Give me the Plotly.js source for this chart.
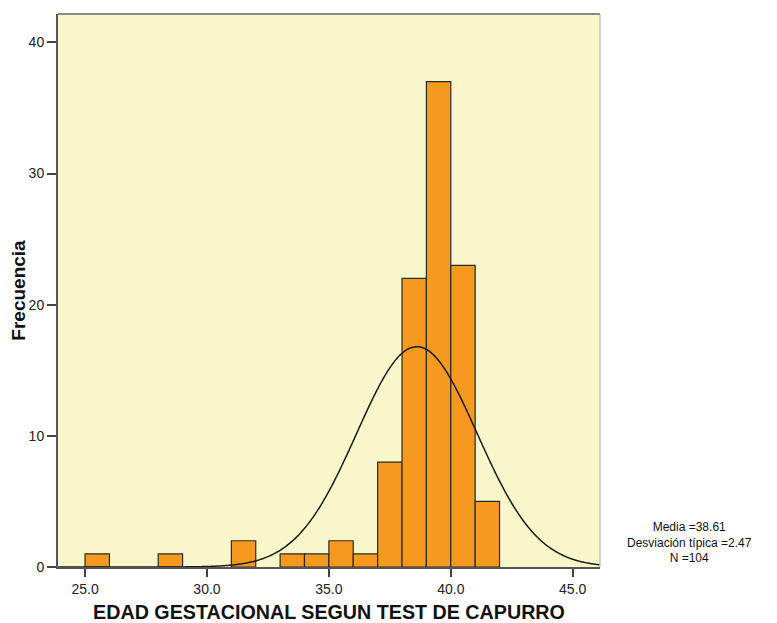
<!DOCTYPE html>
<html>
<head>
<meta charset="utf-8">
<script src="https://cdn.plot.ly/plotly-3.0.1.min.js"></script>
<style>
  html, body { margin: 0; padding: 0; background: #ffffff; }
  #chart { width: 777px; height: 623px; }
</style>
</head>
<body>
<div id="chart"></div>
<script>
// Histogram of gestational age (Capurro test), bins of width 1 week
const binStarts = [25, 28, 31, 33, 34, 35, 36, 37, 38, 39, 40, 41];
const counts    = [1, 1, 2, 1, 1, 2, 1, 8, 22, 37, 23, 5];
const binWidth = 1;

// Summary statistics shown beside the plot
const media = 38.61;
const desviacion = 2.47;
const n = 104;

const xTicks = [25, 30, 35, 40, 45];
const yTicks = [0, 10, 20, 30, 40];

// Fitted normal curve scaled to counts per bin
const curveX = [];
const curveY = [];
for (let x = 23.9; x <= 46.12; x += 0.05) {
  const z = (x - media) / desviacion;
  curveX.push(x);
  curveY.push(n * binWidth * Math.exp(-0.5 * z * z) / (desviacion * Math.sqrt(2 * Math.PI)));
}

const font = "Liberation Sans, Arial, sans-serif";

const bars = {
  type: 'bar',
  x: binStarts.map(s => s + binWidth / 2),
  y: counts,
  width: binWidth,
  marker: { color: '#F7991F', line: { color: '#2a2a2a', width: 1.2 } },
  hoverinfo: 'x+y'
};

const curve = {
  type: 'scatter',
  mode: 'lines',
  x: curveX,
  y: curveY,
  line: { color: '#1a1a1a', width: 1.5, shape: 'spline' },
  hoverinfo: 'skip'
};

const layout = {
  width: 777,
  height: 623,
  margin: { l: 58, r: 177, t: 14, b: 56 },
  paper_bgcolor: '#ffffff',
  plot_bgcolor: '#F8F7C9',
  showlegend: false,
  bargap: 0,
  font: { family: font, color: '#222222', size: 13.5 },
  xaxis: {
    range: [23.89, 46.12],
    tickvals: xTicks,
    ticktext: xTicks.map(v => v.toFixed(1)),
    ticks: 'outside',
    ticklen: 8,
    tickwidth: 2,
    tickcolor: '#444444',
    showgrid: false,
    zeroline: false,
    showline: true,
    linecolor: '#555555',
    linewidth: 2,
    mirror: false,
    tickfont: { family: font, size: 14, color: '#222222' },
    title: {
      text: 'EDAD GESTACIONAL SEGUN TEST DE CAPURRO',
      font: { family: font, size: 19.7, color: '#111111', weight: 'bold' },
      standoff: 11
    }
  },
  yaxis: {
    range: [0, 42.16],
    tickvals: yTicks,
    ticks: 'outside',
    ticklen: 9,
    tickwidth: 2,
    tickcolor: '#444444',
    showgrid: false,
    zeroline: false,
    showline: true,
    linecolor: '#555555',
    linewidth: 2,
    tickfont: { family: font, size: 14, color: '#222222' }
  },
  shapes: [
    { type: 'line', xref: 'paper', yref: 'paper', x0: 0, x1: 1, y0: 1, y1: 1,
      line: { color: '#888888', width: 2 } },
    { type: 'line', xref: 'paper', yref: 'paper', x0: 1, x1: 1, y0: 0, y1: 1,
      line: { color: '#aaaaaa', width: 1 } }
  ],
  annotations: [
    {
      // y-axis title, placed close to the tick labels
      xref: 'paper', yref: 'paper',
      x: -0.0735, y: 0.5,
      xanchor: 'center', yanchor: 'middle',
      textangle: -90,
      showarrow: false,
      text: 'Frecuencia',
      font: { family: font, size: 19, color: '#111111', weight: 'bold' }
    },
    {
      xref: 'paper', yref: 'paper',
      x: 1.165, y: 0.045,
      xanchor: 'center', yanchor: 'middle',
      align: 'center',
      showarrow: false,
      text: 'Media =' + media.toFixed(2) + '<br>Desviación típica =' + desviacion.toFixed(2) + '<br>N =' + n,
      font: { family: font, size: 12, color: '#111111' }
    }
  ]
};

Plotly.newPlot('chart', [bars, curve], layout, { displayModeBar: false, staticPlot: true });
</script>
</body>
</html>
